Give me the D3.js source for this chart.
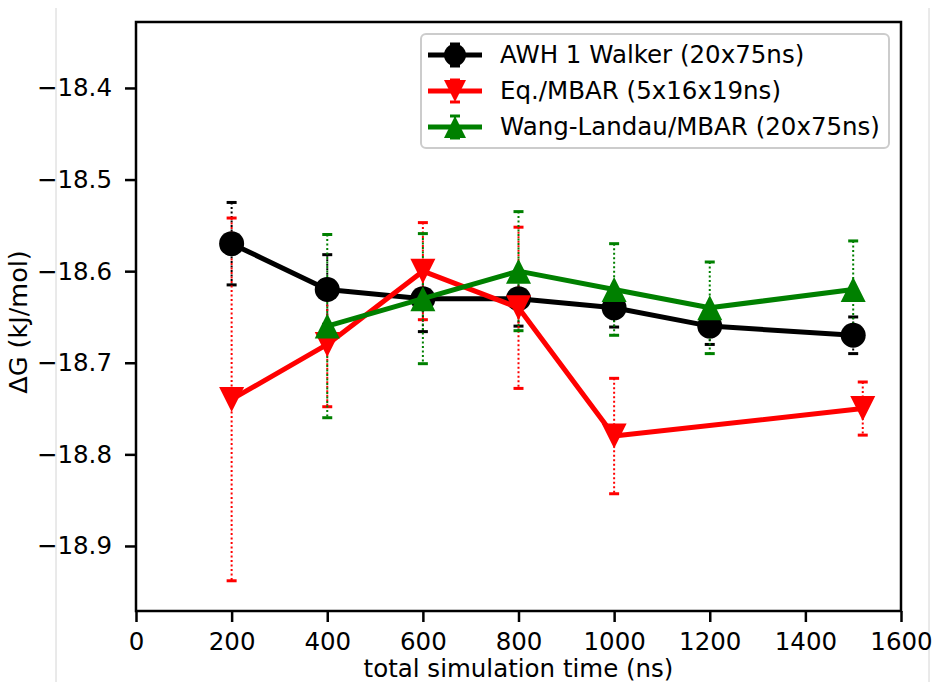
<!DOCTYPE html>
<html>
<head>
<meta charset="utf-8">
<script src="https://cdn.jsdelivr.net/npm/d3@7"></script>
<style>
  html, body { margin: 0; padding: 0; background: #fff; }
  svg { display: block; }
  text { font-family: "DejaVu Sans", sans-serif; fill: #000; }
</style>
</head>
<body>
<svg id="chart" width="935" height="682"></svg>
<script>
// Free energy estimates versus total simulation time, three methods
const awhTime = [200, 400, 600, 800, 1000, 1200, 1500];
const awhDG   = [-18.57, -18.62, -18.63, -18.63, -18.64, -18.66, -18.67];
const awhErr  = [0.045, 0.038, 0.036, 0.030, 0.021, 0.020, 0.020];

const eqTime = [200, 400, 600, 800, 1000, 1520];
const eqDG   = [-18.74, -18.68, -18.60, -18.64, -18.78, -18.75];
const eqErr  = [0.198, 0.068, 0.053, 0.088, 0.063, 0.029];

const wlTime = [400, 600, 800, 1000, 1200, 1500];
const wlDG   = [-18.66, -18.63, -18.60, -18.62, -18.64, -18.62];
const wlErr  = [0.100, 0.071, 0.065, 0.050, 0.050, 0.053];

const seriesNames = ["AWH 1 Walker (20x75ns)", "Eq./MBAR (5x16x19ns)", "Wang-Landau/MBAR (20x75ns)"];
const xTicks = [0, 200, 400, 600, 800, 1000, 1200, 1400, 1600];
const yTicks = [-18.4, -18.5, -18.6, -18.7, -18.8, -18.9];
const xLabel = "total simulation time (ns)";
const yLabel = "\u0394G (kJ/mol)";

const series = [
  { name: seriesNames[0], t: awhTime, v: awhDG, e: awhErr, color: "#000000", marker: "circle" },
  { name: seriesNames[1], t: eqTime,  v: eqDG,  e: eqErr,  color: "#ff0000", marker: "down" },
  { name: seriesNames[2], t: wlTime,  v: wlDG,  e: wlErr,  color: "#008000", marker: "up" }
];

const svg = d3.select("#chart");
const plotLeft = 136, plotRight = 901, plotTop = 22, plotBottom = 611;
const fontSize = 24.5;

const x = d3.scaleLinear().domain([0, 1600]).range([plotLeft, plotRight]);
const y = d3.scaleLinear().domain([-18.971, -18.328]).range([plotBottom, plotTop]);

// faint page frame lines
svg.append("line").attr("x1", 56).attr("x2", 56).attr("y1", 8).attr("y2", 682)
  .attr("stroke", "#d4d4d4").attr("stroke-width", 1);
svg.append("line").attr("x1", 929).attr("x2", 929).attr("y1", 8).attr("y2", 682)
  .attr("stroke", "#d4d4d4").attr("stroke-width", 1);

// marker shapes (matplotlib-style: triangles as wide as they are tall)
function markerPath(kind, s) {
  if (kind === "down") return `M0,${s}L${-s},${-s}L${s},${-s}Z`;
  if (kind === "up") return `M0,${-s}L${-s},${s}L${s},${s}Z`;
  return d3.symbol(d3.symbolCircle, Math.PI * s * s)();
}

const fmt = d => d3.format(".1f")(d).replace("-", "\u2212");

// axes
const xAxis = d3.axisBottom(x).tickValues(xTicks).tickSize(11).tickPadding(11).tickFormat(d3.format("d"));
const yAxis = d3.axisLeft(y).tickValues(yTicks).tickSize(11).tickPadding(13).tickFormat(fmt);

const gx = svg.append("g").attr("transform", `translate(0,${plotBottom})`).call(xAxis);
const gy = svg.append("g").attr("transform", `translate(${plotLeft},0)`).call(yAxis);
[gx, gy].forEach(g => {
  g.select(".domain").remove();
  g.selectAll(".tick line").attr("stroke", "#000").attr("stroke-width", 2.5);
  g.selectAll(".tick text").attr("font-size", fontSize).attr("font-family", "DejaVu Sans").attr("fill", "#000");
});

// error bars first, then data lines and markers on top
const plot = svg.append("g");
series.forEach(s => {
  const g = plot.append("g");
  s.t.forEach((t, i) => {
    const cx = x(t), y1 = y(s.v[i] + s.e[i]), y2 = y(s.v[i] - s.e[i]);
    g.append("line").attr("x1", cx).attr("x2", cx).attr("y1", y1).attr("y2", y2)
      .attr("stroke", s.color).attr("stroke-width", 2).attr("stroke-dasharray", "2,2.5");
    [y1, y2].forEach(cy => {
      g.append("line").attr("x1", cx - 5).attr("x2", cx + 5).attr("y1", cy).attr("y2", cy)
        .attr("stroke", s.color).attr("stroke-width", 3);
    });
  });
});

const line = d3.line().x(d => x(d[0])).y(d => y(d[1]));
series.forEach(s => {
  const pts = s.t.map((t, i) => [t, s.v[i]]);
  plot.append("path").attr("d", line(pts)).attr("fill", "none")
    .attr("stroke", s.color).attr("stroke-width", 5).attr("stroke-linejoin", "round");
  plot.selectAll(null).data(pts).enter().append("path")
    .attr("d", markerPath(s.marker, 12.5))
    .attr("transform", d => `translate(${x(d[0])},${y(d[1])})`)
    .attr("fill", s.color);
});

// frame
svg.append("rect").attr("x", plotLeft).attr("y", plotTop)
  .attr("width", plotRight - plotLeft).attr("height", plotBottom - plotTop)
  .attr("fill", "none").attr("stroke", "#000").attr("stroke-width", 2.5);

// axis labels
svg.append("text").attr("x", (plotLeft + plotRight) / 2).attr("y", 677).attr("text-anchor", "middle")
  .attr("font-size", fontSize).text(xLabel);
svg.append("text").attr("transform", "translate(27,322) rotate(-90)").attr("text-anchor", "middle")
  .attr("font-size", 25.5).text(yLabel);

// legend
const lg = svg.append("g");
lg.append("rect").attr("x", 421).attr("y", 34).attr("width", 468).attr("height", 114)
  .attr("rx", 5).attr("fill", "#fff").attr("fill-opacity", 0.8).attr("stroke", "#cccccc").attr("stroke-width", 2);
const rowY = [55, 91, 127];
series.forEach((s, i) => {
  const cy = rowY[i];
  lg.append("line").attr("x1", 428).attr("x2", 482).attr("y1", cy).attr("y2", cy)
    .attr("stroke", s.color).attr("stroke-width", 5);
  lg.append("line").attr("x1", 455).attr("x2", 455).attr("y1", cy - 11).attr("y2", cy + 11)
    .attr("stroke", s.color).attr("stroke-width", 2).attr("stroke-dasharray", "2,2.5");
  [cy - 11, cy + 11].forEach(yy => lg.append("line").attr("x1", 450).attr("x2", 460)
    .attr("y1", yy).attr("y2", yy).attr("stroke", s.color).attr("stroke-width", 3));
  lg.append("path").attr("d", markerPath(s.marker, 11)).attr("transform", `translate(455,${cy})`)
    .attr("fill", s.color);
  lg.append("text").attr("x", 500).attr("y", cy + 8).attr("font-size", fontSize).text(s.name);
});
</script>
</body>
</html>
